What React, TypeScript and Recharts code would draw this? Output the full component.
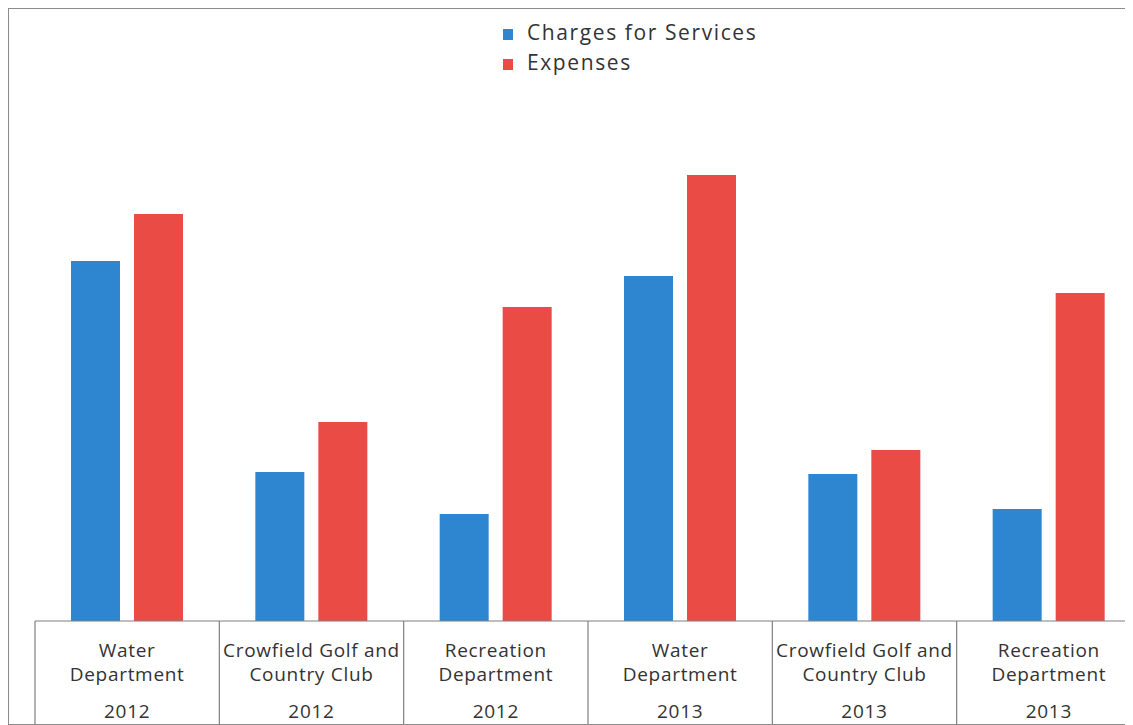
import React from 'react';
import { BarChart, Bar, XAxis, YAxis, Legend } from 'recharts';

const catLine1 = ['Water', 'Crowfield Golf and', 'Recreation', 'Water', 'Crowfield Golf and', 'Recreation'];
const catLine2 = ['Department', 'Country Club', 'Department', 'Department', 'Country Club', 'Department'];
const years = ['2012', '2012', '2012', '2013', '2013', '2013'];
const chargesForServices = [3.6, 1.49, 1.07, 3.45, 1.47, 1.12];
const expenses = [4.07, 1.99, 3.14, 4.46, 1.71, 3.28];

const BLUE = '#2E86D1';
const RED = '#EA4B45';
const FONT = '"Open Sans", "DejaVu Sans", sans-serif';

const data = catLine1.map((c, i) => ({
  key: `${c} ${catLine2[i]} ${years[i]}`,
  idx: i,
  charges: chargesForServices[i],
  expenses: expenses[i],
}));

const W = 1145;
const H = 715;
const AXIS_H = 103;
const margin = { top: 112, right: 13, bottom: 0, left: 26 };
const band = (W - margin.left - margin.right) / data.length;

const CustomTick = (props: any) => {
  const { x, y, payload } = props;
  const i = payload.index;
  const left = x - band / 2;
  const right = x + band / 2;
  const textProps = {
    textAnchor: 'middle' as const,
    fontFamily: FONT,
    fontSize: 19,
    letterSpacing: 0.7,
    fill: '#333333',
  };
  return (
    <g>
      <line x1={left} y1={y} x2={left} y2={y + 110} stroke="#7f7f7f" strokeWidth={1.2} />
      {i === data.length - 1 && (
        <line x1={right} y1={y} x2={right} y2={y + 110} stroke="#7f7f7f" strokeWidth={1.2} />
      )}
      <text x={x} y={y + 36} {...textProps}>{catLine1[i]}</text>
      <text x={x} y={y + 60} {...textProps}>{catLine2[i]}</text>
      <text x={x} y={y + 97} {...textProps}>{years[i]}</text>
    </g>
  );
};

const renderLegend = () => {
  const items = [
    { label: 'Charges for Services', color: BLUE },
    { label: 'Expenses', color: RED },
  ];
  return (
    <div style={{ fontFamily: FONT, fontSize: 21, letterSpacing: 1.6, lineHeight: '30px', color: '#333333', whiteSpace: 'nowrap' }}>
      {items.map((it) => (
        <div key={it.label}>
          <span style={{ display: 'inline-block', width: 10, height: 11, background: it.color, marginRight: 14 }} />
          {it.label}
        </div>
      ))}
    </div>
  );
};

export default function App() {
  return (
    <div style={{ width: 1125, height: 717, overflow: 'hidden', background: '#fff' }}>
      <div style={{ width: 1150, height: 715, border: '1px solid #8c8c8c', position: 'relative', background: '#fff' }}>
        <BarChart width={W} height={H} data={data} margin={margin} barSize={49} barGap={14}>
          <XAxis
            dataKey="key"
            interval={0}
            tickSize={0}
            tickMargin={0}
            tickLine={false}
            axisLine={{ stroke: '#7f7f7f', strokeWidth: 1.2 }}
            tick={<CustomTick />}
            height={AXIS_H}
          />
          <YAxis hide domain={[0, 5]} allowDataOverflow />
          <Legend
            layout="vertical"
            align="center"
            verticalAlign="middle"
            content={renderLegend}
            wrapperStyle={{ top: 8, left: 494, width: 320 }}
          />
          <Bar dataKey="charges" name="Charges for Services" fill={BLUE} isAnimationActive={false} />
          <Bar dataKey="expenses" name="Expenses" fill={RED} isAnimationActive={false} />
        </BarChart>
      </div>
    </div>
  );
}
